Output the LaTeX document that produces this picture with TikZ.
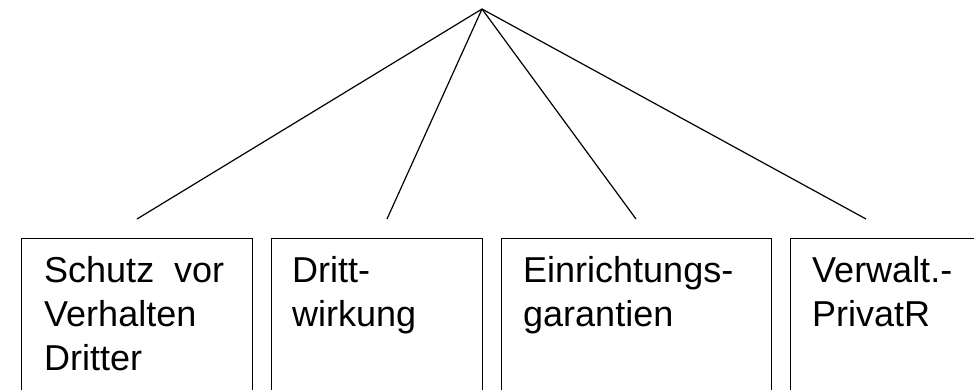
\documentclass[tikz,border=0pt]{standalone}
\usepackage{fontspec}
\setmainfont{Liberation Sans}
\begin{document}
\begin{tikzpicture}[x=1pt,y=-1pt,
  boxshape/.style={draw=black, line width=1.4pt, rectangle, inner sep=0pt, anchor=north west, minimum height=200pt},
  label/.style={anchor=base west, inner sep=0pt, font=\fontsize{36}{44}\selectfont},
  branch/.style={draw=black, line width=1.2pt}]
\useasboundingbox (0,0) rectangle (974,390);
\fill[white] (0,0) rectangle (974,390);
% boxes
\node[boxshape, minimum width=231pt] (b1) at (21,238) {};
\node[boxshape, minimum width=211pt] (b2) at (271,238) {};
\node[boxshape, minimum width=270pt] (b3) at (501,238) {};
\node[boxshape, minimum width=240pt] (b4) at (790,238) {};
% texts
\node[label] (t1) at (44,282) {\parbox[t]{180pt}{\fontsize{36}{44}\selectfont Schutz\hfill vor\\Verhalten\\Dritter}};
\node[label] (t2) at (292,282) {\parbox[t]{180pt}{\fontsize{36}{44}\selectfont Dritt-\\wirkung}};
\node[label] (t3) at (523,282) {\parbox[t]{240pt}{\fontsize{36}{44}\selectfont Einrichtungs-\\garantien}};
\node[label] (t4) at (812,282) {\parbox[t]{160pt}{\fontsize{36}{44}\selectfont Verwalt.-\\PrivatR}};
% connectors
\coordinate (apex) at (482,9);
\coordinate (e1) at (137,219);
\coordinate (e2) at (387,219);
\coordinate (e3) at (636,219);
\coordinate (e4) at (866,219);
\draw[branch] (apex) -- (e1);
\draw[branch] (apex) -- (e2);
\draw[branch] (apex) -- (e3);
\draw[branch] (apex) -- (e4);
\end{tikzpicture}
\end{document}
